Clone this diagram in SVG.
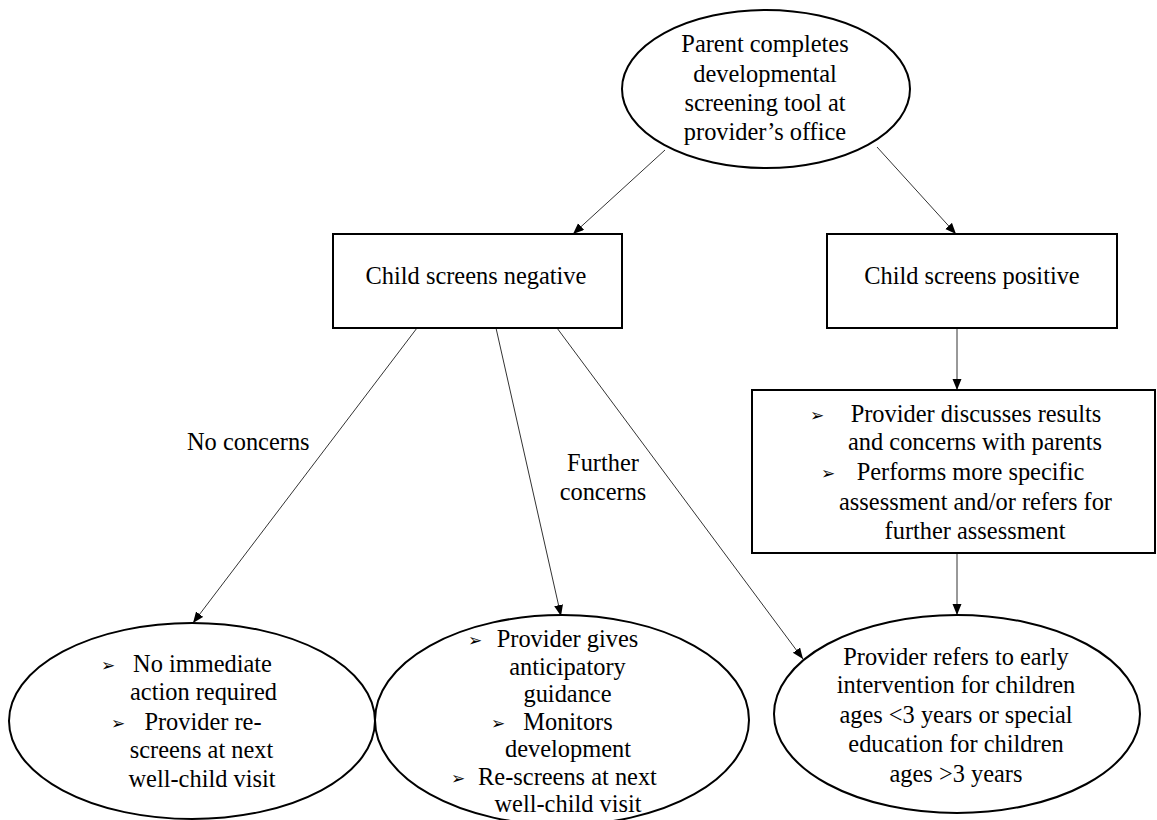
<svg xmlns="http://www.w3.org/2000/svg" width="1157" height="820" viewBox="0 0 1157 820">
<style>
.shape{fill:#fff;stroke:#000;stroke-width:2}
.t{font-family:'Liberation Serif','Times New Roman',serif;font-size:24.4px;fill:#000}
.c{text-anchor:middle}
.b{font-family:'DejaVu Sans',sans-serif;font-size:17px;fill:#000;text-anchor:middle}
.conn{stroke:#333;stroke-width:1;fill:none;marker-end:url(#ah)}
</style>
<defs>
<marker id="ah" markerUnits="userSpaceOnUse" markerWidth="12" markerHeight="10" refX="11" refY="4.5" orient="auto">
<path d="M0,0 L11,4.5 L0,9 Z" fill="#000"/>
</marker>
</defs>
<rect width="1157" height="820" fill="#fff"/>
<g id="connectors">
<line class="conn" x1="665" y1="150" x2="573" y2="234"/>
<line class="conn" x1="877" y1="147" x2="956" y2="234"/>
<line class="conn" x1="957" y1="328" x2="957" y2="390"/>
<line class="conn" x1="957" y1="553" x2="957" y2="615"/>
<line class="conn" x1="417" y1="328" x2="193" y2="623"/>
<line class="conn" x1="496" y1="328" x2="561" y2="616"/>
<line class="conn" x1="557" y1="328" x2="803" y2="659"/>
<text class="t" x="187" y="450">No concerns</text>
<text class="t c" x="603" y="471">Further</text>
<text class="t c" x="603" y="500">concerns</text>
</g>
<g id="start">
<ellipse class="shape" cx="766" cy="89" rx="144" ry="79"/>
<text class="t c" x="765" y="52">Parent completes</text>
<text class="t c" x="765" y="82">developmental</text>
<text class="t c" x="765" y="111">screening tool at</text>
<text class="t c" x="765" y="140">provider’s office</text>
</g>
<g id="negative">
<rect class="shape" x="333" y="234" width="289" height="94"/>
<text class="t c" x="476" y="284">Child screens negative</text>
</g>
<g id="positive">
<rect class="shape" x="827" y="234" width="290" height="94"/>
<text class="t c" x="972" y="284">Child screens positive</text>
</g>
<g id="assessment">
<rect class="shape" x="752" y="390" width="403" height="163"/>
<text class="b" x="817" y="421">➢</text>
<text class="t c" x="976" y="422">Provider discusses results</text>
<text class="t c" x="975" y="450">and concerns with parents</text>
<text class="b" x="828" y="479">➢</text>
<text class="t c" x="970.5" y="480">Performs more specific</text>
<text class="t c" x="975.5" y="510">assessment and/or refers for</text>
<text class="t c" x="975" y="539">further assessment</text>
</g>
<g id="no-action">
<ellipse class="shape" cx="192" cy="721" rx="183" ry="98"/>
<text class="b" x="108" y="671">➢</text>
<text class="t c" x="202.5" y="672">No immediate</text>
<text class="t c" x="203.5" y="700">action required</text>
<text class="b" x="118" y="729">➢</text>
<text class="t c" x="203" y="730">Provider re-</text>
<text class="t c" x="201.5" y="758">screens at next</text>
<text class="t c" x="202" y="787">well-child visit</text>
</g>
<g id="guidance">
<ellipse class="shape" cx="562" cy="720" rx="187" ry="105"/>
<text class="b" x="475" y="646">➢</text>
<text class="t c" x="567.5" y="647">Provider gives</text>
<text class="t c" x="567.5" y="675">anticipatory</text>
<text class="t c" x="567.5" y="702">guidance</text>
<text class="b" x="498" y="729">➢</text>
<text class="t c" x="568" y="730">Monitors</text>
<text class="t c" x="568" y="757">development</text>
<text class="b" x="458" y="784">➢</text>
<text class="t c" x="567.5" y="785">Re-screens at next</text>
<text class="t c" x="568" y="812">well-child visit</text>
</g>
<g id="referral">
<ellipse class="shape" cx="957" cy="714" rx="183" ry="99"/>
<text class="t c" x="956" y="665">Provider refers to early</text>
<text class="t c" x="956" y="693">intervention for children</text>
<text class="t c" x="956" y="723">ages &lt;3 years or special</text>
<text class="t c" x="956" y="752">education for children</text>
<text class="t c" x="956" y="782">ages &gt;3 years</text>
</g>
</svg>
